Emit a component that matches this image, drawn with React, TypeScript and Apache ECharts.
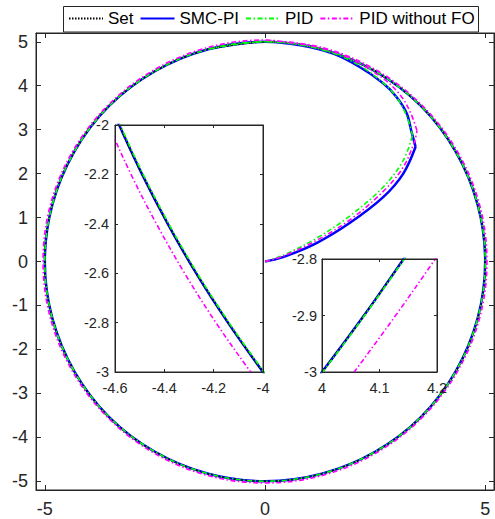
import React, { useEffect, useRef } from "react";
import * as echarts from "echarts";

// ---- names & ticks ----
const legendNames = ["Set", "SMC-PI", "PID", "PID without FO"];
const mainXTicks = [-5, 0, 5];
const mainYTicks = [-5, -4, -3, -2, -1, 0, 1, 2, 3, 4, 5];
const inset1XTicks = [-4.6, -4.4, -4.2, -4];
const inset1YTicks = [-3, -2.8, -2.6, -2.4, -2.2, -2];
const inset2XTicks = [4, 4.1, 4.2];
const inset2YTicks = [-3, -2.9, -2.8];

// ---- main plot data ----
const setCircle: number[][] = [
  [0, 5], [-1.29, 4.83], [-2.5, 4.33], [-3.54, 3.54], [-4.33, 2.5], [-4.83, 1.29],
  [-5, 0], [-4.83, -1.29], [-4.33, -2.5], [-3.54, -3.54], [-2.5, -4.33], [-1.29, -4.83],
  [0, -5], [1.29, -4.83], [2.5, -4.33], [3.54, -3.54], [4.33, -2.5], [4.83, -1.29],
  [5, 0], [4.83, 1.29], [4.33, 2.5], [3.54, 3.54], [2.5, 4.33], [1.29, 4.83], [0, 5],
  [-1.29, 4.83],
];
const noFoCircle: number[][] = [
  [0, 5.04], [-1.3, 4.87], [-2.52, 4.36], [-3.56, 3.56], [-4.36, 2.52], [-4.87, 1.3],
  [-5.04, 0], [-4.87, -1.3], [-4.36, -2.52], [-3.56, -3.56], [-2.52, -4.36], [-1.3, -4.87],
  [0, -5.04], [1.3, -4.87], [2.52, -4.36], [3.56, -3.56], [4.36, -2.52], [4.87, -1.3],
  [5.04, 0], [4.87, 1.3], [4.36, 2.52], [3.56, 3.56], [2.52, 4.36], [1.3, 4.87], [0, 5.04],
];
const smcRise: number[][] = [
  [0, 0], [0.41, 0.1], [1.17, 0.42], [1.93, 0.88], [2.69, 1.47], [3.14, 2.0], [3.42, 2.61],
];
const smcArc: number[][] = [
  [3.42, 2.61], [3.32, 2.98], [3.22, 3.37], [2.99, 3.74], [2.69, 4.05], [2.16, 4.42],
  [1.55, 4.73], [0.8, 4.92],
];
const pidRise: number[][] = [
  [0, 0], [0.41, 0.14], [1.17, 0.53], [1.93, 1.04], [2.69, 1.7], [3.14, 2.3], [3.35, 2.87],
];
const pidArc: number[][] = [
  [3.35, 2.87], [3.22, 3.3], [3.0, 3.72], [2.69, 4.06], [2.16, 4.45], [1.55, 4.74], [0.8, 4.93],
];
const noFoRise: number[][] = [
  [0, 0], [0.41, 0.12], [1.17, 0.48], [1.93, 0.95], [2.69, 1.6], [3.14, 2.15], [3.4, 2.75],
  [3.45, 2.98],
];
const noFoArc: number[][] = [
  [3.45, 2.98], [3.32, 3.35], [3.1, 3.75], [2.69, 4.16], [1.93, 4.62], [1.17, 4.88], [0.4, 5.0],
];

// ---- inset 1 data ----
const inset1Set: number[][] = [
  [-4.625, -1.9], [-4.583, -2], [-4.49, -2.2], [-4.386, -2.4], [-4.271, -2.6], [-4.142, -2.8],
  [-4.0, -3], [-3.923, -3.1],
];
const inset1Pid: number[][] = [
  [-4.621, -1.9], [-4.579, -2], [-4.486, -2.2], [-4.382, -2.4], [-4.267, -2.6], [-4.138, -2.8],
  [-3.996, -3], [-3.919, -3.1],
];
const inset1NoFo: number[][] = [
  [-4.666, -1.9], [-4.626, -2], [-4.535, -2.2], [-4.432, -2.4], [-4.318, -2.6], [-4.191, -2.8],
  [-4.05, -3], [-3.974, -3.1],
];

// ---- inset 2 data ----
const inset2Set: number[][] = [[3.961, -3.05], [4.0, -3], [4.073, -2.9], [4.142, -2.8], [4.176, -2.75]];
const inset2Pid: number[][] = [[3.962, -3.05], [4.001, -3], [4.074, -2.9], [4.143, -2.8], [4.177, -2.75]];
const inset2NoFo: number[][] = [[4.019, -3.05], [4.056, -3], [4.128, -2.9], [4.197, -2.8], [4.23, -2.75]];

const FONT = "'Liberation Sans', Arial, sans-serif";
const AX = "#262626";

const styles: Record<string, any> = {
  Set: { color: "#000000", width: 1.5, type: [1.5, 1.5] },
  "SMC-PI": { color: "#0000ff", width: 2.5, type: "solid" },
  PID: { color: "#00ff00", width: 1.6, type: [5, 2.5, 1.5, 2.5] },
  "PID without FO": { color: "#ff00ff", width: 1.6, type: [5, 2.5, 1.5, 2.5] },
};

function fmt(v: number) {
  return String(Math.round(v * 100) / 100);
}

function axis(
  dim: "x" | "y",
  grid: number,
  min: number,
  max: number,
  ticks: number[],
  mirror: boolean,
  fontSize: number,
  tickLen: number,
  margin: number,
  z: number
) {
  return {
    type: "value",
    gridIndex: grid,
    min,
    max,
    position: dim === "x" ? (mirror ? "top" : "bottom") : mirror ? "right" : "left",
    z,
    axisLine: { show: true, onZero: false, lineStyle: { color: AX, width: 1 } },
    axisTick: { show: true, inside: true, length: tickLen, customValues: ticks, lineStyle: { color: AX, width: 1 } },
    axisLabel: {
      show: !mirror,
      customValues: ticks,
      color: AX,
      fontSize,
      fontFamily: FONT,
      margin,
      formatter: (v: number) => fmt(v),
    },
    splitLine: { show: false },
    axisPointer: { show: false },
  };
}

function line(name: string, data: number[][], xi: number, yi: number, z: number) {
  const st = styles[name];
  return {
    type: "line",
    name,
    data,
    xAxisIndex: xi,
    yAxisIndex: yi,
    symbol: "none",
    showSymbol: false,
    smooth: 0.35,
    clip: true,
    silent: true,
    z,
    itemStyle: { color: st.color },
    lineStyle: { color: st.color, width: st.width, type: st.type },
  };
}

export default function App() {
  const ref = useRef<HTMLDivElement>(null);
  useEffect(() => {
    if (!ref.current) return;
    const chart = echarts.init(ref.current, undefined, { renderer: "svg" });
    const option: any = {
      animation: false,
      backgroundColor: "#ffffff",
      textStyle: { fontFamily: FONT },
      grid: [
        { left: 36, top: 33, width: 458, height: 457, show: true, backgroundColor: "#fff", borderColor: AX, borderWidth: 1, z: 0 },
        { left: 115, top: 125, width: 148, height: 247, show: true, backgroundColor: "#fff", borderColor: AX, borderWidth: 1, z: 5 },
        { left: 322, top: 259, width: 115, height: 113, show: true, backgroundColor: "#fff", borderColor: AX, borderWidth: 1, z: 5 },
      ],
      xAxis: [
        axis("x", 0, -5.2, 5.2, mainXTicks, false, 18, 5, 10, 1),
        axis("x", 0, -5.2, 5.2, mainXTicks, true, 18, 5, 10, 1),
        axis("x", 1, -4.6, -4, inset1XTicks, false, 14.5, 3, 8, 7),
        axis("x", 1, -4.6, -4, inset1XTicks, true, 14.5, 3, 8, 7),
        axis("x", 2, 4, 4.2, inset2XTicks, false, 14.5, 3, 8, 7),
        axis("x", 2, 4, 4.2, inset2XTicks, true, 14.5, 3, 8, 7),
      ],
      yAxis: [
        axis("y", 0, -5.2, 5.2, mainYTicks, false, 18, 5, 8, 1),
        axis("y", 0, -5.2, 5.2, mainYTicks, true, 18, 5, 8, 1),
        axis("y", 1, -3, -2, inset1YTicks, false, 14.5, 3, 6, 7),
        axis("y", 1, -3, -2, inset1YTicks, true, 14.5, 3, 6, 7),
        axis("y", 2, -3, -2.8, inset2YTicks, false, 14.5, 3, 5, 7),
        axis("y", 2, -3, -2.8, inset2YTicks, true, 14.5, 3, 5, 7),
      ],
      legend: {
        data: legendNames,
        left: 68,
        top: 10,
        padding: 0,
        itemWidth: 34,
        itemHeight: 14,
        itemGap: 6,
        selectedMode: false,
        itemStyle: { opacity: 0 },
        textStyle: { color: "#000", fontSize: 17, fontFamily: FONT },
        z: 10,
      },
      graphic: [
        {
          type: "rect",
          z: 9,
          shape: { x: 63.5, y: 6.5, width: 415, height: 25.5 },
          style: { fill: "#fff", stroke: AX, lineWidth: 1 },
        },
      ],
      series: [
        // main
        line("SMC-PI", smcRise, 0, 0, 2),
        line("SMC-PI", smcArc.concat(setCircle), 0, 0, 2),
        line("Set", setCircle, 0, 0, 3),
        line("PID", pidRise, 0, 0, 3),
        line("PID", pidArc.concat(setCircle), 0, 0, 3),
        line("PID without FO", noFoRise, 0, 0, 3),
        line("PID without FO", noFoArc.concat(noFoCircle), 0, 0, 3),
        // inset 1
        line("SMC-PI", inset1Set, 2, 2, 6),
        line("Set", inset1Set, 2, 2, 6),
        line("PID", inset1Pid, 2, 2, 6),
        line("PID without FO", inset1NoFo, 2, 2, 6),
        // inset 2
        line("SMC-PI", inset2Set, 4, 4, 6),
        line("Set", inset2Set, 4, 4, 6),
        line("PID", inset2Pid, 4, 4, 6),
        line("PID without FO", inset2NoFo, 4, 4, 6),
      ],
    };
    chart.setOption(option);
    return () => chart.dispose();
  }, []);
  return <div ref={ref} style={{ position: "fixed", left: 0, top: 0, width: 495, height: 519 }} />;
}
